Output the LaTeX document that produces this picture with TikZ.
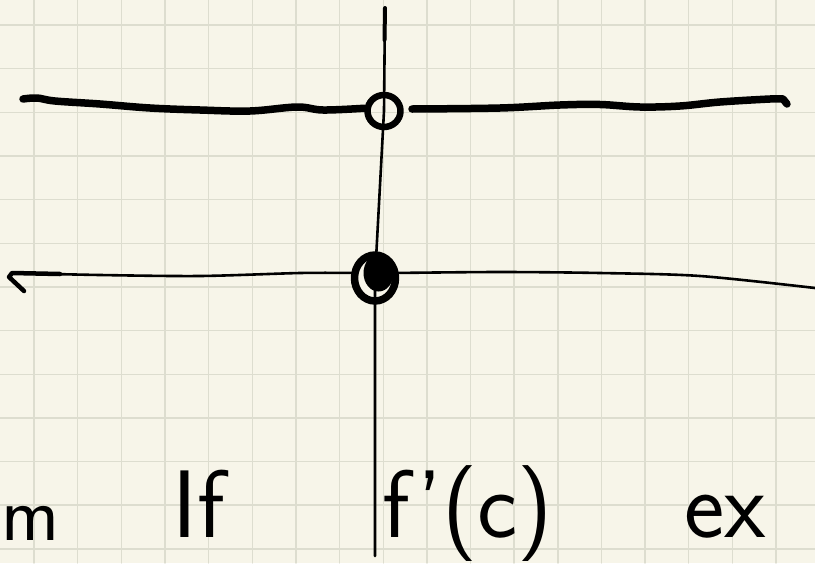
\documentclass[tikz,border=0pt]{standalone}
\usepackage{fontspec}
\usetikzlibrary{shapes.geometric}
\definecolor{paper}{RGB}{247,245,233}
\definecolor{gridc}{RGB}{221,221,207}
\tikzset{
	gridline/.style={gridc,line width=1.4pt},
	marker/.style={line width=7.5pt},
	pen/.style={line width=2.6pt},
	opendot/.style={draw,ellipse,line width=6.5pt,inner sep=0pt,minimum width=33pt,minimum height=32pt},
	closeddot/.style={draw,ellipse,line width=7.5pt,fill=paper,inner sep=0pt,minimum width=41pt,minimum height=46pt},
	hand/.style={anchor=base west,inner sep=0pt,font=\sffamily\fontsize{96}{96}\selectfont},
}
\begin{document}
\begin{tikzpicture}[x=1pt,y=-1pt,line join=round,line cap=round]
	\fill[paper] (0,0) rectangle (815,563);
	\useasboundingbox (0,0) rectangle (815,563);
	% squared paper
	\foreach \i in {0,...,17} \draw[gridline] ({34+43.65*\i},0)--++(0,563);
	\foreach \j in {0,...,12} \draw[gridline] (0,{25+43.65*\j})--++(815,0);
	% the two dots
	\node[opendot] (hole) at (384,111) {};
	\node[closeddot] (point) at (375,278) {};
	\fill (378.5,273) ellipse (15 and 18.5);
	\coordinate (vtop) at (385,8);
	\coordinate (vbot) at (375,556);
	\coordinate (uL) at (23,99);
	\coordinate (uR) at (412,109);
	\coordinate (lL) at (12,273);
	\coordinate (lR) at (815,288);
	% upper graph
	\draw[marker] plot[smooth,tension=0.6] coordinates {(uL) (37,98) (55,101) (100,104) (150,108) (200,110) (250,111) (297,107) (323,110) (hole.172)};
	\draw[marker] plot[smooth,tension=0.6] coordinates {(uR) (500,108) (560,105) (600,104.5) (640,107) (680,106) (720,102) (770,99) (783,99)} -- (787,104);
	% lower graph
	\draw[line width=4.5pt] (24,291)--(9,277)--(lL)--(60,274);
	\draw[pen] plot[smooth] coordinates {(lL) (100,275) (200,276) (300,273) (point.168)};
	\draw[pen] plot[smooth] coordinates {(point.12) (500,272) (600,273) (700,276) (lR)};
	% vertical line
	\draw[pen] (vtop)--(hole.center)--(point.center)--(vbot);
	\draw[line width=4pt] (vtop)--(384.5,40);
	% words
	\node[hand,font=\sffamily\fontsize{78}{78}\selectfont] (wm) at (1,540) {m};
	\node[hand] (wif) at (172,537) {If};
	\node[hand] (wfc) at (382,537) {f'(c)};
	\node[hand] (wex) at (684,537) {ex};
\end{tikzpicture}
\end{document}
